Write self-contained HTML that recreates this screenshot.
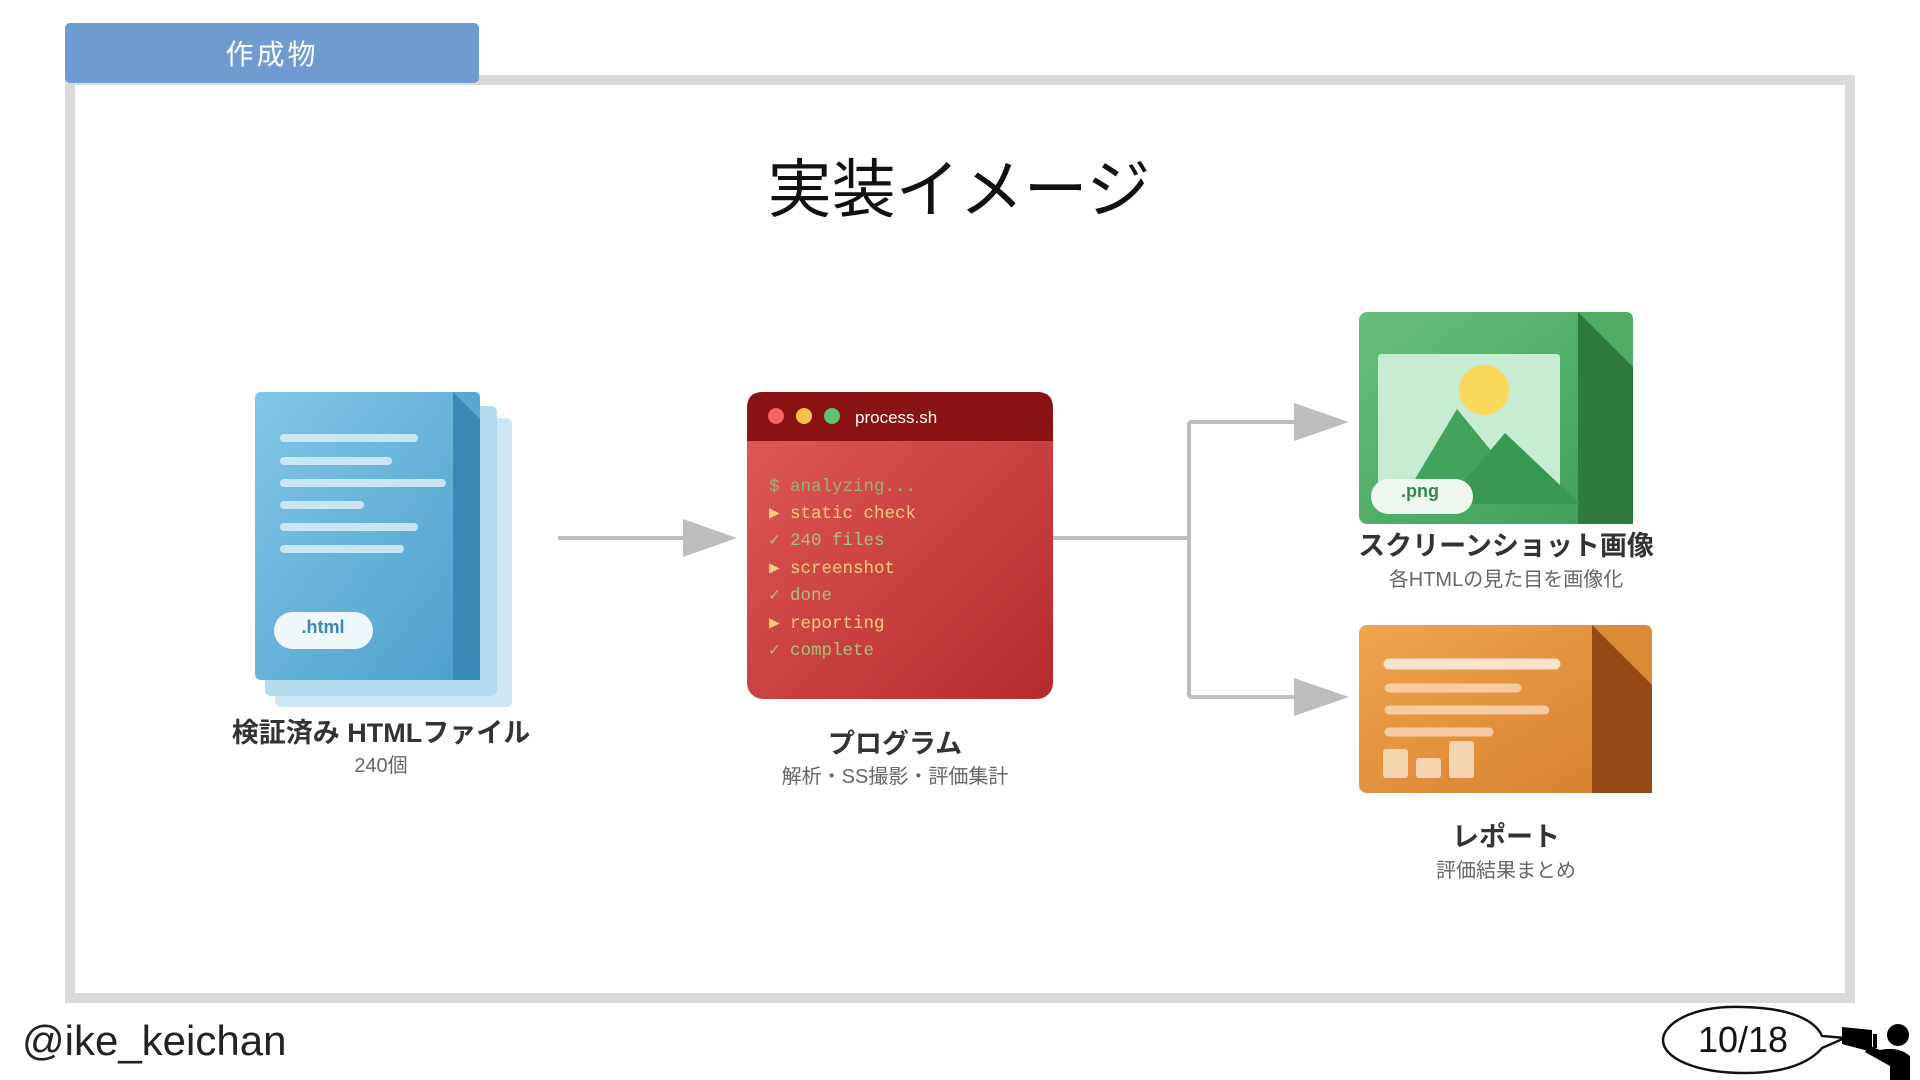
<!DOCTYPE html>
<html><head><meta charset="utf-8"><style>
html,body{margin:0;padding:0;background:#fff;}
body{width:1920px;height:1080px;position:relative;overflow:hidden;font-family:"Liberation Sans","Noto Sans CJK JP",sans-serif;}
</style></head><body>
<svg width="1920" height="1080" viewBox="0 0 1920 1080" xmlns="http://www.w3.org/2000/svg" style="position:absolute;left:0;top:0">
<defs>
<linearGradient id="gb" x1="0" y1="0" x2="1" y2="1"><stop offset="0" stop-color="#82c7e6"/><stop offset="1" stop-color="#4b9ecb"/></linearGradient>
<linearGradient id="gr" x1="0" y1="0" x2="1" y2="1"><stop offset="0" stop-color="#e35a5a"/><stop offset="1" stop-color="#b52b2d"/></linearGradient>
<linearGradient id="gg" x1="0" y1="0" x2="1" y2="1"><stop offset="0" stop-color="#67c07a"/><stop offset="1" stop-color="#3d9d55"/></linearGradient>
<linearGradient id="go" x1="0" y1="0" x2="1" y2="1"><stop offset="0" stop-color="#f0a450"/><stop offset="1" stop-color="#d57e2c"/></linearGradient>
</defs>
<!-- frame -->
<rect x="70" y="80" width="1780" height="918" fill="none" stroke="#dadada" stroke-width="10"/>
<rect x="65" y="23" width="414" height="60" rx="5" fill="#6f9bd1"/>
<text x="272" y="64" font-size="28" fill="#fff" text-anchor="middle" font-family="Liberation Sans,Noto Sans CJK JP,sans-serif" letter-spacing="3">作成物</text>
<text x="959" y="212" font-size="64" fill="#111" text-anchor="middle" font-family="Liberation Sans,Noto Sans CJK JP,sans-serif">実装イメージ</text>

<!-- html doc stack -->
<rect x="275" y="418" width="237" height="289" rx="6" fill="#cde7f4"/>
<rect x="265" y="406" width="232" height="290" rx="6" fill="#b2dbee"/>
<rect x="255" y="392" width="225" height="288" rx="6" fill="url(#gb)"/>
<path d="M453 392 H474 Q480 392 480 398 V680 H453 Z" fill="#3a88b6"/>
<path d="M453 392 L480 419 V398 Q480 392 474 392 Z" fill="#5aa7d2"/>
<g stroke="#d9eef8" stroke-width="8" stroke-linecap="round" opacity=".85">
<line x1="284" y1="438" x2="414" y2="438"/><line x1="284" y1="461" x2="388" y2="461"/>
<line x1="284" y1="483" x2="442" y2="483"/><line x1="284" y1="505" x2="360" y2="505"/>
<line x1="284" y1="527" x2="414" y2="527"/><line x1="284" y1="549" x2="400" y2="549"/></g>
<rect x="274" y="612" width="99" height="37" rx="18.5" fill="#eef7fb"/>
<text x="323" y="633" font-size="18" font-weight="bold" fill="#3a88b6" text-anchor="middle">.html</text>
<text x="381" y="742" font-size="27" font-weight="bold" fill="#333" text-anchor="middle">検証済み HTMLファイル</text>
<text x="381" y="772" font-size="20" fill="#666" text-anchor="middle">240個</text>

<!-- arrow 1 -->
<line x1="558" y1="538" x2="690" y2="538" stroke="#bdbdbd" stroke-width="4"/>
<path d="M683 519 L737 538 L683 557 Z" fill="#bdbdbd"/>

<!-- terminal -->
<rect x="747" y="392" width="306" height="307" rx="16" fill="url(#gr)"/>
<path d="M747 441 V408 Q747 392 763 392 H1037 Q1053 392 1053 408 V441 Z" fill="#8b1213"/>
<circle cx="776" cy="416" r="8" fill="#f26666"/><circle cx="804" cy="416" r="8" fill="#f9c04c"/><circle cx="832" cy="416" r="8" fill="#5dc46e"/>
<text x="855" y="423" font-size="17" fill="#fff">process.sh</text>
<g font-family="Liberation Mono,DejaVu Sans Mono,monospace" font-size="17.5">
<text x="769" y="491" fill="#a3ad6e">$ analyzing...</text>
<text x="769" y="518" fill="#f6cf80">▶ static check</text>
<text x="769" y="545" fill="#a9c07a">✓ 240 files</text>
<text x="769" y="573" fill="#f6cf80">▶ screenshot</text>
<text x="769" y="600" fill="#a9c07a">✓ done</text>
<text x="769" y="628" fill="#f6cf80">▶ reporting</text>
<text x="769" y="655" fill="#a9c07a">✓ complete</text>
</g>
<text x="895" y="753" font-size="27" font-weight="bold" fill="#333" text-anchor="middle">プログラム</text>
<text x="895" y="783" font-size="20" fill="#666" text-anchor="middle">解析・SS撮影・評価集計</text>

<!-- split connector -->
<path d="M1053 538 H1189 M1189 422 V697 M1189 422 H1300 M1189 697 H1300" stroke="#bdbdbd" stroke-width="4" fill="none"/>
<path d="M1294 403 L1349 422 L1294 441 Z" fill="#bdbdbd"/>
<path d="M1294 678 L1349 697 L1294 716 Z" fill="#bdbdbd"/>

<!-- image tile -->
<rect x="1359" y="312" width="274" height="212" rx="8" fill="url(#gg)"/>
<path d="M1578 312 H1625 Q1633 312 1633 320 V524 H1578 Z" fill="#2e7a3c"/>
<path d="M1578 312 L1633 367 V320 Q1633 312 1625 312 Z" fill="#4fae63"/>
<rect x="1378" y="354" width="182" height="150" rx="3" fill="#c6ecd2"/>
<circle cx="1484" cy="390" r="25" fill="#f9d85a"/>
<path d="M1400 504 L1457 409 L1520 486 Z" fill="#43a35a"/>
<path d="M1445 504 L1505 433 L1580 504 Z" fill="#3a9950"/>
<rect x="1371" y="479" width="102" height="35" rx="17.5" fill="#eef8f0"/>
<text x="1420" y="497" font-size="18" font-weight="bold" fill="#2e8a45" text-anchor="middle">.png</text>
<text x="1506" y="555" font-size="27" font-weight="bold" fill="#333" text-anchor="middle">スクリーンショット画像</text>
<text x="1506" y="586" font-size="20" fill="#666" text-anchor="middle">各HTMLの見た目を画像化</text>

<!-- report tile -->
<rect x="1359" y="625" width="293" height="168" rx="8" fill="url(#go)"/>
<path d="M1592 625 H1644 Q1652 625 1652 633 V793 H1592 Z" fill="#954a16"/>
<path d="M1592 625 L1652 685 V633 Q1652 625 1644 625 Z" fill="#dc8a38"/>
<g stroke="#fbe3c9" stroke-linecap="round" stroke-width="11"><line x1="1389" y1="664" x2="1555" y2="664"/></g>
<g stroke="#f5cc9e" stroke-linecap="round" stroke-width="9">
<line x1="1389" y1="688" x2="1517" y2="688"/><line x1="1389" y1="710" x2="1545" y2="710"/><line x1="1389" y1="732" x2="1489" y2="732"/></g>
<g fill="#f6d4b0"><rect x="1383" y="749" width="25" height="29" rx="3"/><rect x="1416" y="758" width="25" height="20" rx="3"/><rect x="1449" y="741" width="25" height="37" rx="3"/></g>
<text x="1506" y="846" font-size="27" font-weight="bold" fill="#333" text-anchor="middle">レポート</text>
<text x="1506" y="877" font-size="20" fill="#666" text-anchor="middle">評価結果まとめ</text>

<!-- footer -->
<text x="22" y="1055" font-size="42" fill="#222">@ike_keichan</text>
<path d="M1743 1007 C1690 1005 1663 1025 1663 1040 C1663 1058 1695 1073 1745 1073 C1790 1073 1812 1060 1822 1048 L1845 1038 L1822 1036 C1815 1020 1790 1008 1743 1007 Z" fill="#fff" stroke="#111" stroke-width="2.5"/>
<text x="1743" y="1052" font-size="36" fill="#111" text-anchor="middle">10/18</text>
<path d="M1842 1027 L1872 1030 V1052 L1842 1044 Z" fill="#000"/>
<rect x="1873" y="1034" width="4" height="14" fill="#000"/>
<circle cx="1898" cy="1035" r="11" fill="#000"/>
<path d="M1880 1050 Q1898 1046 1910 1056 V1080 H1890 V1066 L1865 1052 L1870 1046 Z" fill="#000"/>
</svg>
</body></html>
